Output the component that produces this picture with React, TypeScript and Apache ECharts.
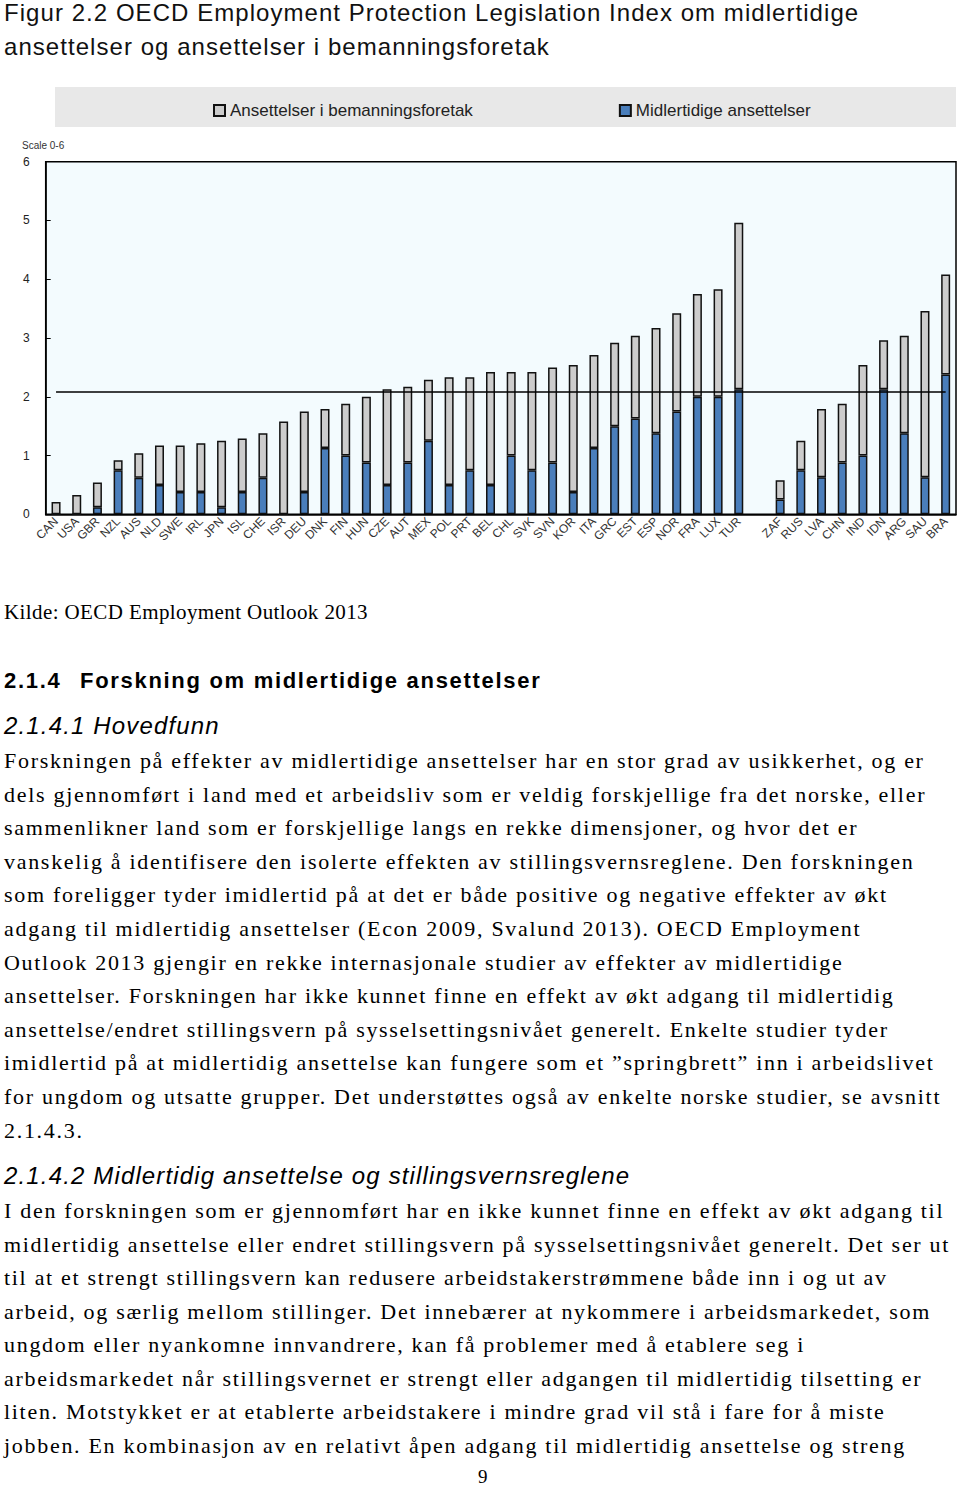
import React, { useEffect, useRef } from "react";
import * as echarts from "echarts";

const categories = ["CAN","USA","GBR","NZL","AUS","NLD","SWE","IRL","JPN","ISL","CHE","ISR","DEU","DNK","FIN","HUN","CZE","AUT","MEX","POL","PRT","BEL","CHL","SVK","SVN","KOR","ITA","GRC","EST","ESP","NOR","FRA","LUX","TUR","","ZAF","RUS","LVA","CHN","IND","IDN","ARG","SAU","BRA"];

// Midlertidige ansettelser (lower, blue segment)
const temporaryContracts = [0,0,0.12,0.75,0.62,0.5,0.38,0.38,0.12,0.38,0.62,0,0.38,1.13,1.0,0.88,0.5,0.88,1.25,0.5,0.75,0.5,1.0,0.75,0.88,0.38,1.13,1.5,1.63,1.38,1.75,2.0,2.0,2.13,null,0.25,0.75,0.63,0.88,1.0,2.13,1.38,0.63,2.38];

// Ansettelser i bemanningsforetak (upper, grey segment)
const agencyWork = [0.21,0.33,0.42,0.17,0.42,0.67,0.79,0.83,1.13,0.91,0.76,1.58,1.37,0.66,0.88,1.12,1.63,1.29,1.04,1.83,1.58,1.92,1.42,1.67,1.62,2.16,1.58,1.42,1.41,1.79,1.67,1.75,1.83,2.83,null,0.33,0.5,1.16,1.0,1.54,0.83,1.66,2.83,1.7];

const oecdAverage = 2.08;
const yTicks = [0, 1, 2, 3, 4, 5, 6];

const titleLines = [
  "Figur 2.2 OECD Employment Protection Legislation Index om midlertidige",
  "ansettelser og ansettelser i bemanningsforetak",
];

const para1 = [
  "Forskningen på effekter av midlertidige ansettelser har en stor grad av usikkerhet, og er",
  "dels gjennomført i land med et arbeidsliv som er veldig forskjellige fra det norske, eller",
  "sammenlikner land som er forskjellige langs en rekke dimensjoner, og hvor det er",
  "vanskelig å identifisere den isolerte effekten av stillingsvernsreglene. Den forskningen",
  "som foreligger tyder imidlertid på at det er både positive og negative effekter av økt",
  "adgang til midlertidig ansettelser (Econ 2009, Svalund 2013). OECD Employment",
  "Outlook 2013 gjengir en rekke internasjonale studier av effekter av midlertidige",
  "ansettelser. Forskningen har ikke kunnet finne en effekt av økt adgang til midlertidig",
  "ansettelse/endret stillingsvern på sysselsettingsnivået generelt. Enkelte studier tyder",
  "imidlertid på at midlertidig ansettelse kan fungere som et ”springbrett” inn i arbeidslivet",
  "for ungdom og utsatte grupper. Det understøttes også av enkelte norske studier, se avsnitt",
  "2.1.4.3.",
];

const para2 = [
  "I den forskningen som er gjennomført har en ikke kunnet finne en effekt av økt adgang til",
  "midlertidig ansettelse eller endret stillingsvern på sysselsettingsnivået generelt. Det ser ut",
  "til at et strengt stillingsvern kan redusere arbeidstakerstrømmene både inn i og ut av",
  "arbeid, og særlig mellom stillinger. Det innebærer at nykommere i arbeidsmarkedet, som",
  "ungdom eller nyankomne innvandrere, kan få problemer med å etablere seg i",
  "arbeidsmarkedet når stillingsvernet er strengt eller adgangen til midlertidig tilsetting er",
  "liten. Motstykket er at etablerte arbeidstakere i mindre grad vil stå i fare for å miste",
  "jobben. En kombinasjon av en relativt åpen adgang til midlertidig ansettelse og streng",
];

const SERIF = "'Liberation Serif', 'Times New Roman', serif";
const SANS = "'Liberation Sans', Arial, sans-serif";
const NARROW = "'Liberation Sans Narrow', 'Liberation Sans', Arial, sans-serif";

function Line(props: { y: number; x?: number; h?: number; style: React.CSSProperties; children: React.ReactNode }) {
  const h = props.h ?? 30;
  return (
    <div
      style={{
        position: "absolute",
        left: props.x ?? 4,
        top: props.y - h / 2,
        height: h,
        lineHeight: h + "px",
        whiteSpace: "nowrap",
        color: "#000",
        ...props.style,
      }}
    >
      {props.children}
    </div>
  );
}

function Chart() {
  const ref = useRef<HTMLDivElement>(null);
  useEffect(() => {
    if (!ref.current) return;
    const chart = echarts.init(ref.current, undefined, { renderer: "svg" });
    const border = { borderColor: "#111", borderWidth: 1.5 };
    chart.setOption({
      animation: false,
      backgroundColor: "#fff",
      graphic: [
        { type: "rect", z: -1, shape: { x: 55, y: 87, width: 901, height: 40 }, style: { fill: "#E8E8E8" } },
        { type: "text", left: 22, top: 140, style: { text: "Scale 0-6", fontSize: 10, fill: "#333", fontFamily: NARROW } },
      ],
      legend: {
        data: ["Ansettelser i bemanningsforetak", "Midlertidige ansettelser"],
        left: 208,
        top: 97,
        itemGap: 146,
        itemWidth: 11,
        itemHeight: 11,
        icon: "rect",
        textStyle: { fontSize: 17, color: "#222", fontFamily: NARROW },
      },
      grid: {
        left: 45.7,
        right: 4,
        top: 161.7,
        bottom: 560 - 514.3,
        show: true,
        borderColor: "#000",
        borderWidth: 1.5,
        backgroundColor: "#F3FBFE",
      },
      xAxis: {
        type: "category",
        data: categories,
        axisLine: { lineStyle: { color: "#000", width: 1.5 } },
        axisTick: { show: false },
        axisLabel: { rotate: 45, interval: 0, fontSize: 12, color: "#333", margin: 5, fontFamily: NARROW },
      },
      yAxis: {
        type: "value",
        min: yTicks[0],
        max: yTicks[yTicks.length - 1],
        interval: 1,
        axisLine: { show: true, lineStyle: { color: "#000", width: 1.5 } },
        axisTick: { show: true, inside: true, length: 5, lineStyle: { color: "#000" } },
        axisLabel: { margin: 16, fontSize: 12, color: "#222", fontFamily: NARROW },
        splitLine: { show: false },
      },
      series: [
        {
          name: "Midlertidige ansettelser",
          type: "bar",
          stack: "epl",
          barWidth: 9,
          data: temporaryContracts,
          itemStyle: { color: "#4A7EBB", ...border },
        },
        {
          name: "Ansettelser i bemanningsforetak",
          type: "bar",
          stack: "epl",
          barWidth: 9,
          data: agencyWork,
          itemStyle: { color: "#CCCCCC", ...border },
          markLine: {
            silent: true,
            symbol: "none",
            label: { show: false },
            lineStyle: { color: "#000", width: 1.5, type: "solid" },
            data: [[{ coord: [0, oecdAverage] }, { coord: [categories.length - 1, oecdAverage] }]],
          },
        },
      ],
    });
    return () => chart.dispose();
  }, []);
  return <div ref={ref} style={{ position: "absolute", left: 0, top: 0, width: 960, height: 560 }} />;
}

export default function App() {
  const body: React.CSSProperties = { fontFamily: SERIF, fontSize: 22, letterSpacing: "1.7px" };
  const title: React.CSSProperties = { fontFamily: SANS, fontSize: 24, letterSpacing: "1.05px", color: "#111" };
  const italic: React.CSSProperties = { fontFamily: SANS, fontSize: 24, fontStyle: "italic", letterSpacing: "1.15px" };
  const bold: React.CSSProperties = { fontFamily: SANS, fontSize: 22, fontWeight: "bold", letterSpacing: "1.7px" };
  return (
    <div style={{ position: "absolute", left: 0, top: 0, width: 960, height: 1487, background: "#fff", overflow: "hidden" }}>
      <Chart />
      <Line y={13} style={title}>{titleLines[0]}</Line>
      <Line y={47} style={title}>{titleLines[1]}</Line>
      <Line y={612} style={{ fontFamily: SERIF, fontSize: 21, letterSpacing: "0.4px" }}>Kilde: OECD Employment Outlook 2013</Line>
      <Line y={681} style={bold}>2.1.4</Line>
      <Line y={681} x={80} style={bold}>Forskning om midlertidige ansettelser</Line>
      <Line y={726} style={italic}>2.1.4.1 Hovedfunn</Line>
      {para1.map((t, i) => (
        <Line key={"p1" + i} y={761 + i * 33.6} style={body}>{t}</Line>
      ))}
      <Line y={1176} style={italic}>2.1.4.2 Midlertidig ansettelse og stillingsvernsreglene</Line>
      {para2.map((t, i) => (
        <Line key={"p2" + i} y={1211 + i * 33.5} style={body}>{t}</Line>
      ))}
      <Line y={1477} x={478} h={18} style={{ fontFamily: SERIF, fontSize: 19 }}>9</Line>
    </div>
  );
}
